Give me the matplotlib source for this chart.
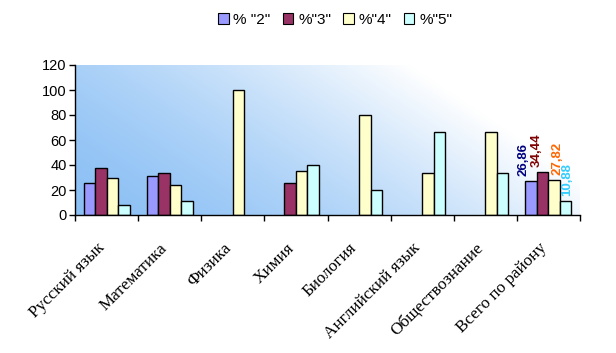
import matplotlib
matplotlib.use("Agg")
import matplotlib.pyplot as plt
import numpy as np
from matplotlib.colors import LinearSegmentedColormap

categories = ["Русский язык", "Математика", "Физика", "Химия", "Биология",
              "Английский язык", "Обществознание", "Всего по району"]
series_names = ['% "2"', '%"3"', '%"4"', '%"5"']
s2 = [25.3, 31.0, 0, 0, 0, 0, 0, 26.86]
s3 = [37.3, 33.5, 0, 25.6, 0, 0, 0, 34.44]
s4 = [29.3, 23.7, 100, 35.0, 80.0, 33.33, 66.67, 27.82]
s5 = [7.7, 11.2, 0, 40.0, 20.0, 66.67, 33.33, 10.88]
total_labels = ["26,86", "34,44", "27,82", "10,88"]

colors = ["#9999FF", "#993366", "#FFFFCC", "#CCFFFF"]
label_colors = ["#000080", "#800000", "#FF6600", "#33CCFF"]
label_dx = [-8, -6, 3, 1]

fig = plt.figure(figsize=(6.16, 3.53), dpi=100)
ax = fig.add_axes([75/616, 1-215/353, (580-75)/616, 150/353])

n = len(categories)
ax.set_xlim(0, n)
ax.set_ylim(0, 120)

# gradient background
nx, ny = 300, 150
xx, yy = np.meshgrid(np.linspace(0, 1, nx), np.linspace(0, 1, ny))
t = np.clip(xx * 0.9 + yy * 0.4, 0, 1)
t = t ** 1.5
cmap = LinearSegmentedColormap.from_list("g", ["#8CC0F5", "#FFFFFF"])
ax.imshow(t, cmap=cmap, extent=[0, n, 0, 120], origin="lower", aspect="auto",
          zorder=0, vmin=0, vmax=1, interpolation="bilinear")

w = 1 / 5.5
x = np.arange(n) + 0.5
allseries = [s2, s3, s4, s5]
for i, (s, c, name) in enumerate(zip(allseries, colors, series_names)):
    pos = x + (i - 1.5) * w
    vals = np.array(s, dtype=float)
    mask = vals > 0
    ax.bar(pos[mask], vals[mask], width=w, color=c, edgecolor="black",
           linewidth=1.0, zorder=2)
    ax.bar([np.nan], [0], width=w, color=c, edgecolor="black", linewidth=0.8, label=name)
    ax.annotate(total_labels[i], (pos[-1], vals[-1]), xytext=(label_dx[i], 5),
                textcoords="offset pixels", rotation=90, ha="center", va="bottom",
                color=label_colors[i], fontsize=9.5, fontweight="bold",
                family="Liberation Sans", zorder=3)

ax.set_yticks(range(0, 121, 20))
ax.set_yticklabels([str(v) for v in range(0, 121, 20)], family="Liberation Sans", fontsize=10.5)
ax.set_xticks(np.arange(0, n + 1))
ax.set_xticklabels([])
ax.tick_params(axis="x", which="major", length=4, direction="out", width=1)
ax.tick_params(axis="y", length=4, direction="out", width=1, pad=2)

for xi, cat in zip(x, categories):
    ax.annotate(cat, (xi, 0), xycoords=("data", "data"), xytext=(-10, -25),
                textcoords="offset pixels", rotation=45, ha="right", va="top",
                rotation_mode="anchor", family="Liberation Serif", fontsize=12.3,
                annotation_clip=False)

for sp in ["top", "right"]:
    ax.spines[sp].set_visible(False)
for sp in ["left", "bottom"]:
    ax.spines[sp].set_linewidth(1.0)

leg = fig.legend(loc="center", bbox_to_anchor=(335/616, 1-20/353), ncol=4, frameon=False,
                 prop={"family": "Liberation Sans", "size": 11},
                 handlelength=0.7, handleheight=0.7, handletextpad=0.3, columnspacing=0.8)

fig.savefig("out.png", dpi=100)
